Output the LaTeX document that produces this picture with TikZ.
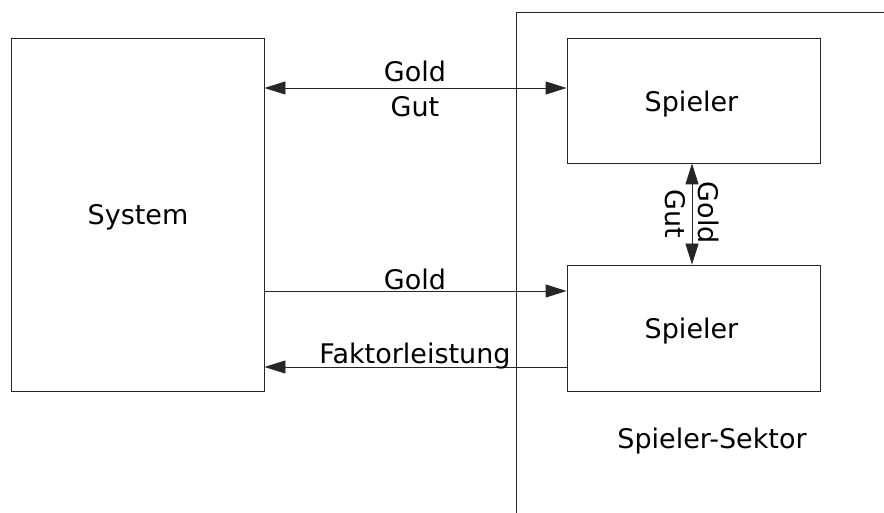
\documentclass[tikz,border=0pt]{standalone}
\usepackage{fontspec}
\setmainfont{DejaVu Sans}
\usetikzlibrary{arrows.meta}
\begin{document}
\begin{tikzpicture}[x=1pt,y=-1pt,
  box/.style={draw=black!85,line width=0.9pt,minimum width=253pt,inner sep=0pt},
  lbl/.style={inner sep=0pt,anchor=base,font=\fontsize{27}{32}\selectfont},
  flow/.style={draw=black!85,line width=0.9pt,-{Triangle[length=21pt,width=13pt]}},
  flow2/.style={draw=black!85,line width=0.9pt,{Triangle[length=21pt,width=13pt]}-{Triangle[length=21pt,width=13pt]}}]
\useasboundingbox[fill=white] (0,0) rectangle (884,513);
\node[box,minimum height=353pt] (sys) at (137.5,214.5) {};
\node[lbl] (syst) at (138,225) {System};
\node[box,minimum height=125pt] (s1) at (693.5,100.5) {};
\node[lbl] (s1t) at (691.5,112) {Spieler};
\node[box,minimum height=126pt] (s2) at (693.5,328) {};
\node[lbl] (s2t) at (691.5,338) {Spieler};
\coordinate (sb) at (516,513);
\coordinate (st) at (516,12);
\coordinate (sr) at (884,12);
\draw[black!85,line width=0.9pt] (sb) -- (st) -- (sr);
\node[lbl] (sek) at (712,448) {Spieler-Sektor};
% top double arrow
\draw[flow2] (sys.east |- 0,88) -- (s1.west |- 0,88);
\node[lbl] (g1) at (415,82) {Gold};
\node[lbl] (gut1) at (415,117) {Gut};
% gold arrow
\draw[flow] (sys.east |- 0,291) -- (s2.west |- 0,291);
\node[lbl] (g2) at (415,290) {Gold};
% faktorleistung
\draw[flow] (s2.west |- 0,367) -- (sys.east |- 0,367);
\node[lbl] (fl) at (415,363) {Faktorleistung};
% vertical arrow
\draw[flow2] (s1.south -| 692,0) -- (s2.north -| 692,0);
\node[lbl,rotate=-90] (g3) at (698,213) {Gold};
\node[lbl,rotate=-90] (gut3) at (665,214) {Gut};
\end{tikzpicture}
\end{document}
